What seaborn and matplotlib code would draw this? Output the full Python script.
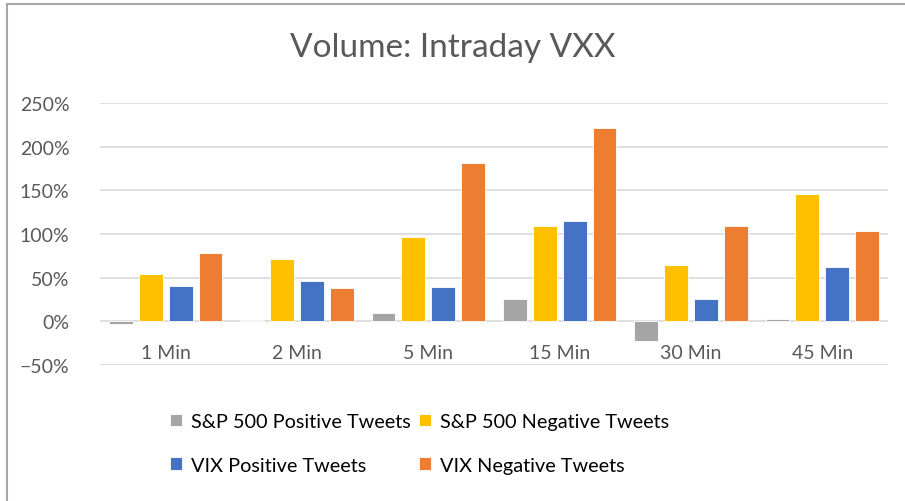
import matplotlib
matplotlib.use("Agg")
import matplotlib.pyplot as plt
import matplotlib.lines as mlines
from matplotlib.ticker import PercentFormatter, MultipleLocator
import seaborn as sns
import pandas as pd

# data (percent)
intervals = ["1 Min", "2 Min", "5 Min", "15 Min", "30 Min", "45 Min"]
series = ["S&P 500 Positive Tweets", "S&P 500 Negative Tweets",
          "VIX Positive Tweets", "VIX Negative Tweets"]
sp_pos = [-3, 1.5, 9.5, 26, -23, 2.3]
sp_neg = [54, 71, 97, 109, 64, 146]
vix_pos = [41, 46, 39, 115, 26, 62]
vix_neg = [78, 38, 181, 221, 109, 103]
colors = ["#A5A5A5", "#FFC000", "#4472C4", "#ED7D31"]

rows = []
for name, vals in zip(series, [sp_pos, sp_neg, vix_pos, vix_neg]):
    for cat, v in zip(intervals, vals):
        rows.append({"interval": cat, "series": name, "value": v})
df = pd.DataFrame(rows)

sns.set_style("white")
plt.rcParams["font.family"] = ["Lato", "DejaVu Sans"]
txt = "#595959"

fig = plt.figure(figsize=(9.05, 5.02), dpi=100)
ax = fig.add_axes([100 / 905, 1 - 366 / 502, 788 / 905, 262 / 502])

sns.barplot(data=df, x="interval", y="value", hue="series", order=intervals,
            hue_order=series, palette=colors, saturation=1, width=0.91, gap=0.2,
            edgecolor="white", linewidth=0.6, ax=ax, zorder=3)

ax.set_ylim(-50, 250)
ax.set_xlim(-0.5, 5.5)
ax.yaxis.set_major_locator(MultipleLocator(50))
ax.yaxis.set_major_formatter(PercentFormatter(decimals=0))
ax.grid(axis="y", color="#D9D9D9", linewidth=1.2, zorder=0)
ax.grid(axis="x", visible=False)
for s in ax.spines.values():
    s.set_visible(False)
ax.tick_params(axis="y", length=0, pad=22, labelsize=14, labelcolor=txt)
ax.tick_params(axis="x", length=0, pad=-15, labelsize=14, labelcolor=txt)
ax.set_xlabel("")
ax.set_ylabel("")

fig.text(0.5, 1 - 48 / 502, "Volume: Intraday VXX", ha="center", va="center",
         fontsize=24, color=txt)

handles, labels = ax.get_legend_handles_labels()
ax.get_legend().remove()
order = [0, 2, 1, 3]
fig.legend([handles[i] for i in order], [labels[i] for i in order], ncol=2,
           loc="upper left", bbox_to_anchor=(160 / 905, 1 - 404 / 502),
           frameon=False, fontsize=14.3, handlelength=0.6, handleheight=0.6,
           handletextpad=0.45, columnspacing=0.45, labelspacing=1.35,
           borderpad=0, labelcolor="black")

# chart frame (top and left edges only visible)
fig.add_artist(mlines.Line2D([6.5 / 905, 1], [1 - 4.5 / 502, 1 - 4.5 / 502],
                             color="#A6A6A6", linewidth=1.5))
fig.add_artist(mlines.Line2D([6.5 / 905, 6.5 / 905], [0, 1 - 4.5 / 502],
                             color="#A6A6A6", linewidth=1.5))

fig.savefig("out.png", dpi=100)
